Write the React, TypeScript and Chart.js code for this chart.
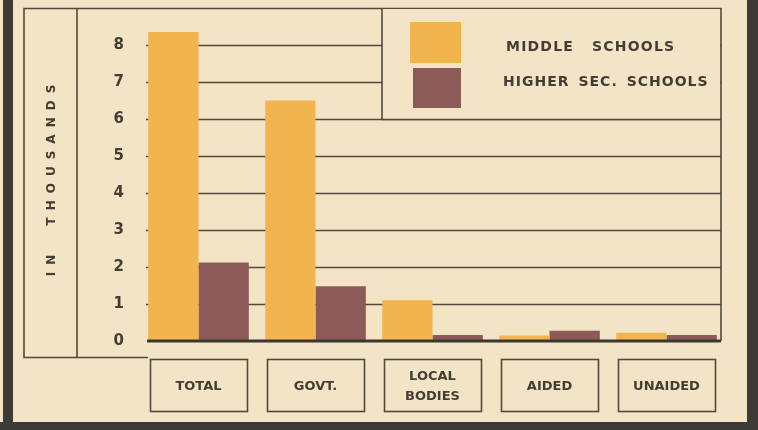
import React, { useEffect, useRef } from "react";
import { Chart, registerables } from "chart.js";

Chart.register(...registerables);

const categories: string[][] = [["TOTAL"], ["GOVT."], ["LOCAL", "BODIES"], ["AIDED"], ["UNAIDED"]];
const middleSchools = [8.35, 6.5, 1.1, 0.15, 0.22];
const higherSecSchools = [2.12, 1.48, 0.16, 0.28, 0.16];
const yTicks = [0, 1, 2, 3, 4, 5, 6, 7, 8];
const seriesLabels = ["MIDDLE SCHOOLS", "HIGHER SEC. SCHOOLS"];
const yTitle = "IN THOUSANDS";

const BG = "#f3e4c5";
const INK = "#433e33";
const LINE = "#51493b";
const DARK = "#3b3a35";
const ORANGE = "#f2b44f";
const BROWN = "#8c5b58";
const FONT = "'DejaVu Sans', sans-serif";

function drawWords(ctx: any, text: string, x: number, y: number, gap: number) {
  let cx = x;
  text.split(" ").forEach((w) => {
    ctx.fillText(w, cx, y);
    cx += ctx.measureText(w).width + gap;
  });
}

const decor = {
  id: "decor",
  beforeDraw(chart: any) {
    const { ctx, width, height } = chart;
    ctx.save();
    ctx.fillStyle = BG;
    ctx.fillRect(0, 0, width, height);
    ctx.fillStyle = DARK;
    ctx.fillRect(3, 0, 10, height);
    ctx.fillRect(747, 0, 11, height);
    ctx.fillRect(0, 422, width, 8);
    ctx.restore();
  },
  beforeDatasetsDraw(chart: any) {
    const { ctx } = chart;
    const y = chart.scales.y;
    ctx.save();
    ctx.strokeStyle = LINE;
    ctx.lineWidth = 1.6;
    yTicks.forEach((v) => {
      if (v === 0) return;
      const py = Math.round(y.getPixelForValue(v)) + 0.5;
      ctx.beginPath();
      ctx.moveTo(146, py);
      ctx.lineTo(721, py);
      ctx.stroke();
    });
    ctx.restore();
  },
  afterDatasetsDraw(chart: any) {
    const { ctx } = chart;
    const x = chart.scales.x;
    const y = chart.scales.y;
    ctx.save();
    // baseline
    const by = y.getPixelForValue(0);
    ctx.strokeStyle = "#3d382e";
    ctx.lineWidth = 3;
    ctx.beginPath();
    ctx.moveTo(147, by);
    ctx.lineTo(721, by);
    ctx.stroke();

    // frame
    ctx.strokeStyle = LINE;
    ctx.lineWidth = 1.6;
    ctx.beginPath();
    ctx.moveTo(148, 357.5);
    ctx.lineTo(24, 357.5);
    ctx.lineTo(24, 8.5);
    ctx.lineTo(721, 8.5);
    ctx.lineTo(721, by);
    ctx.moveTo(77, 8.5);
    ctx.lineTo(77, 357.5);
    ctx.stroke();

    // legend box
    const ly = Math.round(y.getPixelForValue(6)) + 0.5;
    ctx.fillStyle = BG;
    ctx.fillRect(382, 9, 338, ly - 9);
    ctx.beginPath();
    ctx.moveTo(382, 8.5);
    ctx.lineTo(382, ly);
    ctx.lineTo(721, ly);
    ctx.stroke();
    const ds = chart.data.datasets;
    ctx.fillStyle = ds[0].backgroundColor;
    ctx.fillRect(410, 22, 51, 41);
    ctx.fillStyle = ds[1].backgroundColor;
    ctx.fillRect(413, 68, 48, 40);
    ctx.fillStyle = INK;
    ctx.font = `bold 14px ${FONT}`;
    ctx.textAlign = "left";
    ctx.textBaseline = "middle";
    (ctx as any).letterSpacing = "1.2px";
    drawWords(ctx, ds[0].label, 506, 47, 18);
    (ctx as any).letterSpacing = "1px";
    drawWords(ctx, ds[1].label, 503, 82, 9);

    // category boxes
    (ctx as any).letterSpacing = "0px";
    ctx.strokeStyle = LINE;
    ctx.lineWidth = 1.6;
    categories.forEach((_, i) => {
      const cx = x.getPixelForValue(i);
      ctx.strokeRect(Math.round(cx - 49) + 0.5, 359.5, 97, 52);
    });

    // y title
    ctx.translate(52, 180);
    ctx.rotate(-Math.PI / 2);
    ctx.fillStyle = INK;
    ctx.font = `bold 12px ${FONT}`;
    (ctx as any).letterSpacing = "7px";
    ctx.textAlign = "center";
    ctx.textBaseline = "middle";
    ctx.fillText(yTitle.replace(" ", "  "), 3, 0);
    ctx.restore();
  },
};

export default function App() {
  const ref = useRef<HTMLCanvasElement | null>(null);
  useEffect(() => {
    document.body.style.margin = "0";
    const chart = new Chart(ref.current as HTMLCanvasElement, {
      type: "bar",
      data: {
        labels: categories,
        datasets: [
          {
            label: seriesLabels[0],
            data: middleSchools,
            backgroundColor: ORANGE,
            categoryPercentage: 0.86,
            barPercentage: 1.0,
          },
          {
            label: seriesLabels[1],
            data: higherSecSchools,
            backgroundColor: BROWN,
            categoryPercentage: 0.86,
            barPercentage: 1.0,
          },
        ],
      },
      options: {
        animation: false,
        responsive: false,
        devicePixelRatio: 1,
        layout: { padding: { left: 100, right: 33, top: 8, bottom: 0 } },
        plugins: { legend: { display: false }, tooltip: { enabled: false } },
        scales: {
          x: {
            grid: { display: false, drawTicks: false },
            border: { display: false },
            ticks: {
              color: INK,
              font: { family: FONT, weight: "bold", size: 13, lineHeight: 1.5 },
              padding: 36,
              crossAlign: "center",
              maxRotation: 0,
            },
            afterFit: (s: any) => {
              s.height = 89;
            },
          },
          y: {
            min: 0,
            max: 9,
            grid: { display: false, drawTicks: false },
            border: { display: false },
            afterBuildTicks: (s: any) => {
              s.ticks = yTicks.map((v) => ({ value: v }));
            },
            ticks: {
              color: INK,
              font: { family: FONT, weight: "bold", size: 15 },
              padding: 16,
            },
            afterFit: (s: any) => {
              s.width = 40;
              s.paddingTop = 0;
              s.paddingBottom = 0;
            },
          },
        },
      },
      plugins: [decor],
    });
    return () => chart.destroy();
  }, []);
  return (
    <div style={{ position: "absolute", left: 0, top: 0, width: 758, height: 430 }}>
      <canvas ref={ref} width={758} height={430} />
    </div>
  );
}
